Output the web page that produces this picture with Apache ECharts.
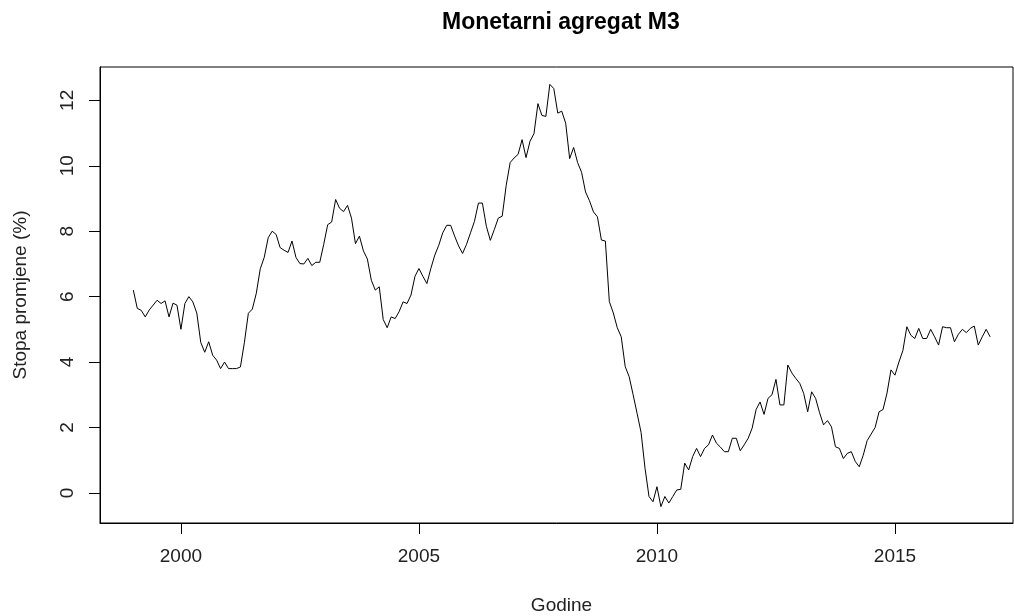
<!DOCTYPE html>
<html>
<head>
    <meta charset="utf-8">
    <script src="https://cdn.jsdelivr.net/npm/echarts@6/dist/echarts.min.js"></script>
</head>
<body style="margin:0">
<div id="main" style="width: 1014px;height:616px;"></div>
<script>
    // monthly series, first value = 1999 Jan
    var startYear = 1999;
    var m3Rates = [
        6.2, 5.64, 5.58, 5.38, 5.59, 5.74, 5.89, 5.79, 5.87, 5.38, 5.8, 5.74,
        5.0, 5.79, 6.0, 5.84, 5.5, 4.6, 4.3, 4.62, 4.21, 4.06, 3.8, 4.0,
        3.8, 3.8, 3.8, 3.85, 4.6, 5.49, 5.62, 6.1, 6.85, 7.2, 7.8, 8.0,
        7.9, 7.5, 7.42, 7.35, 7.7, 7.2, 7.01, 7.0, 7.17, 6.95, 7.05, 7.05,
        7.6, 8.2, 8.28, 8.97, 8.7, 8.6, 8.79, 8.4, 7.62, 7.85, 7.4, 7.15,
        6.5, 6.2, 6.3, 5.3, 5.05, 5.38, 5.33, 5.54, 5.84, 5.79, 6.05, 6.62,
        6.86, 6.62, 6.4, 6.86, 7.27, 7.57, 7.95, 8.18, 8.18, 7.85, 7.55, 7.32,
        7.6, 7.95, 8.3, 8.86, 8.86, 8.15, 7.72, 8.05, 8.4, 8.46, 9.4, 10.1,
        10.24, 10.35, 10.8, 10.25, 10.75, 10.98, 11.9, 11.54, 11.51, 12.49, 12.36, 11.61,
        11.67, 11.3, 10.22, 10.56, 10.1, 9.8, 9.2, 8.93, 8.59, 8.44, 7.73, 7.7,
        5.85, 5.5, 5.05, 4.77, 3.86, 3.55, 3.0, 2.43, 1.85, 0.75, -0.11, -0.27,
        0.19, -0.42, -0.11, -0.31, -0.11, 0.09, 0.11, 0.91, 0.7, 1.11, 1.36, 1.11,
        1.36, 1.47, 1.77, 1.52, 1.4, 1.26, 1.26, 1.67, 1.67, 1.29, 1.47, 1.67,
        1.98, 2.55, 2.78, 2.4, 2.89, 3.0, 3.47, 2.69, 2.69, 3.91, 3.67, 3.5,
        3.35, 3.04, 2.48, 3.09, 2.89, 2.45, 2.08, 2.21, 2.02, 1.41, 1.36, 1.05,
        1.21, 1.26, 0.96, 0.8, 1.15, 1.6, 1.8, 2.0, 2.48, 2.55, 3.05, 3.76,
        3.6, 4.0, 4.35, 5.08, 4.82, 4.72, 5.03, 4.72, 4.72, 5.0, 4.77, 4.52,
        5.08, 5.05, 5.05, 4.62, 4.85, 5.0, 4.9, 5.03, 5.1, 4.52, 4.77, 5.0,
        4.77
    ];
    var xTicks = [2000, 2005, 2010, 2015];
    var yTicks = [0, 2, 4, 6, 8, 10, 12];

    var seriesData = m3Rates.map(function (v, i) {
        return [startYear + i / 12, v];
    });

    var font = '"Liberation Sans", Arial, sans-serif';
    var myChart = echarts.init(document.getElementById('main'));

    var option = {
        animation: false,
        backgroundColor: '#fff',
        textStyle: { fontFamily: font },
        title: {
            text: 'Monetarni agregat M3',
            left: 437,
            top: 6,
            textStyle: { fontFamily: font, fontSize: 23, fontWeight: 'bold', color: '#000' }
        },
        grid: {
            left: 100, right: 1, top: 67, bottom: 93,
            outerBoundsMode: 'none',
            show: true, borderColor: '#000', borderWidth: 1
        },
        xAxis: {
            type: 'value',
            min: 1998.3,
            max: 2017.48,
            name: 'Godine',
            nameLocation: 'middle',
            nameGap: 73,
            nameTextStyle: { fontSize: 19, color: '#222', fontFamily: font, padding: [0, 0, 0, 10] },
            axisLine: { show: true, onZero: false, lineStyle: { color: '#000' } },
            axisTick: { show: true, length: 11, customValues: xTicks, lineStyle: { color: '#000' } },
            axisLabel: {
                customValues: xTicks, margin: 24, fontSize: 19, color: '#222', fontFamily: font,
                formatter: function (v) { return String(v); }
            },
            splitLine: { show: false }
        },
        yAxis: {
            type: 'value',
            min: -0.92,
            max: 13.02,
            name: 'Stopa promjene (%)',
            nameLocation: 'middle',
            nameGap: 70,
            nameTextStyle: { fontSize: 19, color: '#222', fontFamily: font },
            axisLine: { show: true, onZero: false, lineStyle: { color: '#000' } },
            axisTick: { show: true, length: 11, customValues: yTicks, lineStyle: { color: '#000' } },
            axisLabel: {
                customValues: yTicks, rotate: 90, margin: 23, fontSize: 19, color: '#222', fontFamily: font,
                formatter: function (v) { return String(v); }
            },
            splitLine: { show: false }
        },
        series: [{
            type: 'line',
            data: seriesData,
            showSymbol: false,
            lineStyle: { color: '#000', width: 1 }
        }]
    };
    myChart.setOption(option);
</script>
</body>
</html>
